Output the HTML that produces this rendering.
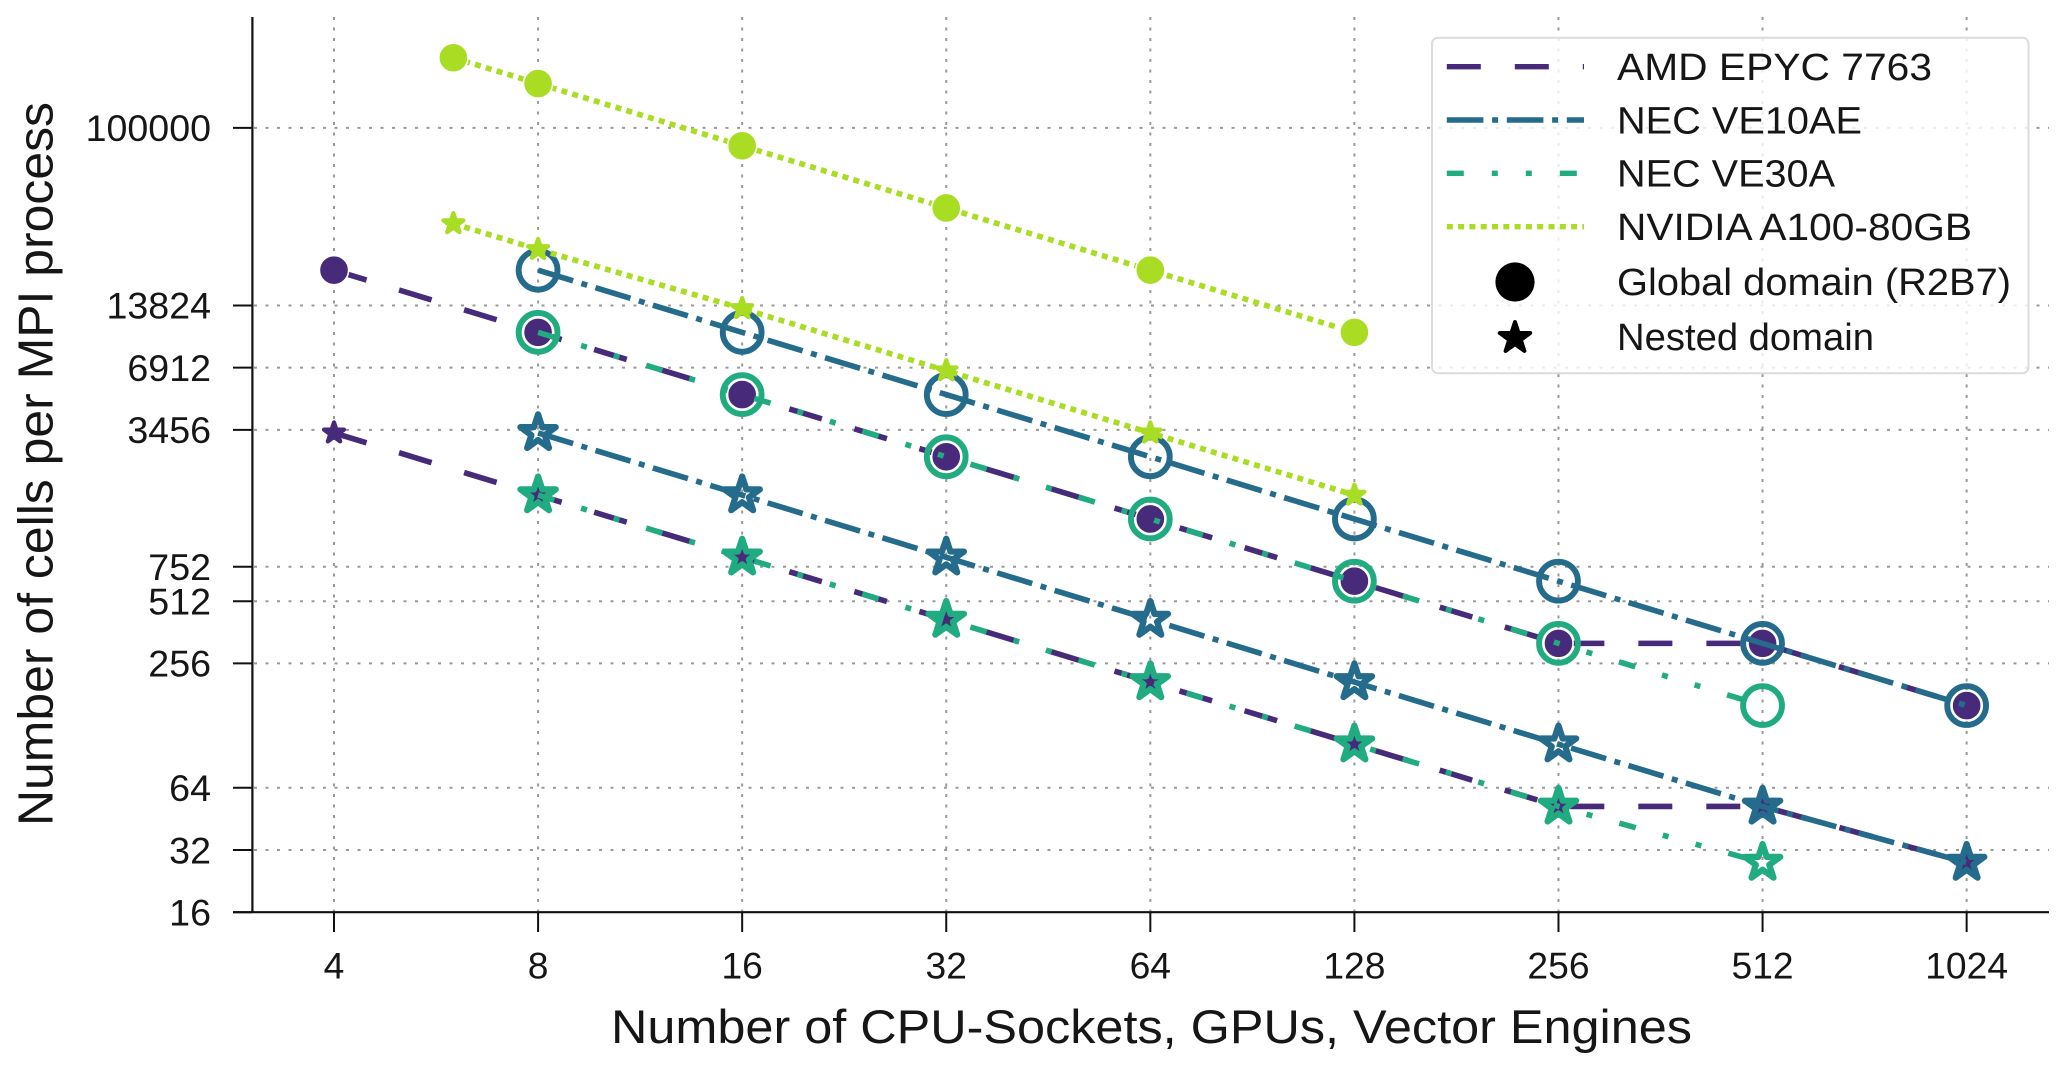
<!DOCTYPE html>
<html lang="en">
<head>
<meta charset="utf-8">
<title>Cells per MPI process vs number of devices</title>
<style>
html,body{margin:0;padding:0;background:#fff;}
svg{display:block;}
text{font-family:"Liberation Sans",sans-serif;fill:#161616;}
</style>
</head>
<body>
<svg id="chart" xmlns="http://www.w3.org/2000/svg" width="2067" height="1070" viewBox="0 0 2067 1070">
  <rect x="0" y="0" width="2067" height="1070" fill="#ffffff"/>
  <g id="grid"></g>
  <g id="marks"></g>
  <g id="axes">
    <line x1="252.4" y1="17" x2="252.4" y2="913" stroke="#111" stroke-width="2.2"/>
    <line x1="233" y1="912.2" x2="2049" y2="912.2" stroke="#111" stroke-width="2.2"/>
  </g>
  <text x="611" y="1043" font-size="47" textLength="1081" lengthAdjust="spacingAndGlyphs">Number of CPU-Sockets, GPUs, Vector Engines</text>
  <text transform="translate(52.7,826) rotate(-90)" font-size="49" textLength="724" lengthAdjust="spacingAndGlyphs">Number of cells per MPI process</text>
  <g>
    <rect x="1432" y="37.7" width="596.5" height="335.5" rx="6" ry="6" fill="#ffffff" fill-opacity="0.8" stroke="#dcdcdc" stroke-width="2"/>
    <g>
      <line x1="1446.8" y1="66.7" x2="1584" y2="66.7" stroke="#472a7a" stroke-width="5.4" stroke-dasharray="34 34"/>
      <text x="1617" y="80" font-size="38" textLength="315" lengthAdjust="spacingAndGlyphs">AMD EPYC 7763</text>
    </g>
    <g>
      <line x1="1446.8" y1="120" x2="1584" y2="120" stroke="#256b8c" stroke-width="5.4" stroke-dasharray="36.6 8.7 6 8.7"/>
      <text x="1617" y="133.3" font-size="38" textLength="245" lengthAdjust="spacingAndGlyphs">NEC VE10AE</text>
    </g>
    <g>
      <line x1="1446.8" y1="173.3" x2="1584" y2="173.3" stroke="#21ab81" stroke-width="5.4" stroke-dasharray="17 28 6 28 6 28"/>
      <text x="1617" y="186.7" font-size="38" textLength="218" lengthAdjust="spacingAndGlyphs">NEC VE30A</text>
    </g>
    <g>
      <line x1="1446.8" y1="226.7" x2="1584" y2="226.7" stroke="#a9dd24" stroke-width="5.4" stroke-dasharray="6 5.3"/>
      <text x="1617" y="240" font-size="38" textLength="355" lengthAdjust="spacingAndGlyphs">NVIDIA A100-80GB</text>
    </g>
    <g>
      <circle cx="1515" cy="282" r="19.6" fill="#000"/>
      <text x="1617" y="295" font-size="38" textLength="394" lengthAdjust="spacingAndGlyphs">Global domain (R2B7)</text>
    </g>
    <g>
      <path id="legend-star" fill="#000" stroke="#000" stroke-width="4" stroke-linejoin="round"/>
      <text x="1617" y="350" font-size="38" textLength="257" lengthAdjust="spacingAndGlyphs">Nested domain</text>
    </g>
  </g>
</svg>
<script>
// Axis ticks
const xTicks = [4, 8, 16, 32, 64, 128, 256, 512, 1024];
const yTicks = [16, 32, 64, 256, 512, 752, 3456, 6912, 13824, 100000];

// Global domain (R2B7): devices and cells per MPI process
const amdGlobalX = [4, 8, 16, 32, 64, 128, 256, 512, 1024];
const amdGlobalY = [20480, 10240, 5120, 2560, 1280, 640, 320, 320, 160];
const ve10GlobalX = [8, 16, 32, 64, 128, 256, 512, 1024];
const ve10GlobalY = [20480, 10240, 5120, 2560, 1280, 640, 320, 160];
const ve30GlobalX = [8, 16, 32, 64, 128, 256, 512];
const ve30GlobalY = [10240, 5120, 2560, 1280, 640, 320, 160];
const a100GlobalX = [6, 8, 16, 32, 64, 128];
const a100GlobalY = [218450, 163840, 81920, 40960, 20480, 10240];

// Nested domain: devices and cells per MPI process
const amdNestedX = [4, 8, 16, 32, 64, 128, 256, 512, 1024];
const amdNestedY = [3340, 1670, 835, 417, 208, 104, 52, 52, 27.8];
const ve10NestedX = [8, 16, 32, 64, 128, 256, 512, 1024];
const ve10NestedY = [3340, 1670, 835, 417, 208, 104, 52, 27.8];
const ve30NestedX = [8, 16, 32, 64, 128, 256, 512];
const ve30NestedY = [1670, 835, 417, 208, 104, 52, 27.8];
const a100NestedX = [6, 8, 16, 32, 64, 128];
const a100NestedY = [34400, 25800, 13360, 6680, 3340, 1670];

const NS = 'http://www.w3.org/2000/svg';
const gridGroup = document.getElementById('grid');
const marksGroup = document.getElementById('marks');
const axesGroup = document.getElementById('axes');

function xScale(v) { return 334 + 204.08 * Math.log2(v / 4); }
function yScale(v) { return 912.2 - 62.2 * Math.log2(v / 16); }

function make(tag, parent, attrs) {
  const node = document.createElementNS(NS, tag);
  Object.keys(attrs).forEach(function (k) { node.setAttribute(k, attrs[k]); });
  parent.appendChild(node);
  return node;
}

function starPath(cx, cy, R) {
  const r = R * 0.381966;
  let d = '';
  for (let i = 0; i < 10; i++) {
    const rad = i % 2 === 0 ? R : r;
    const a = -Math.PI / 2 + i * Math.PI / 5;
    d += (i === 0 ? 'M' : 'L') + (cx + rad * Math.cos(a)).toFixed(2) + ' ' + (cy + rad * Math.sin(a)).toFixed(2);
  }
  return d + 'Z';
}

// Grid and ticks
xTicks.forEach(function (t) {
  const px = xScale(t);
  const g = make('line', gridGroup, { x1: px, y1: 17, x2: px, y2: 912, stroke: '#999999', 'stroke-width': 2, 'stroke-dasharray': '3 7.5' });
  
  
  const tick = make('line', axesGroup, { x1: px, y1: 912, x2: px, y2: 932, stroke: '#111', 'stroke-width': 2 });
  
  
  const label = make('text', axesGroup, { x: px, y: 978.7, 'font-size': 37, 'text-anchor': 'middle', textLength: String(t).length * 20.7, lengthAdjust: 'spacingAndGlyphs' });
  
  
  label.textContent = String(t);
});
yTicks.forEach(function (t) {
  const py = yScale(t);
  if (t !== 16) {
    const g = make('line', gridGroup, { x1: 254, y1: py, x2: 2049, y2: py, stroke: '#999999', 'stroke-width': 2, 'stroke-dasharray': '3 8.5' });
    
    
  }
  const tick = make('line', axesGroup, { x1: 233, y1: py, x2: 252, y2: py, stroke: '#111', 'stroke-width': 2 });
  
  
  const label = make('text', axesGroup, { x: 211, y: py + 13.3, 'font-size': 37, 'text-anchor': 'end', textLength: String(t).length * 20.9, lengthAdjust: 'spacingAndGlyphs' });
  
  
  label.textContent = String(t);
});

function drawLine(xs, ys, color, dash, name) {
  const pts = xs.map(function (x, i) { return xScale(x).toFixed(2) + ',' + yScale(ys[i]).toFixed(2); }).join(' ');
  const line = make('polyline', marksGroup, { points: pts, fill: 'none', stroke: color, 'stroke-width': 5.6, 'stroke-dasharray': dash, 'stroke-linejoin': 'miter' });
  
  
}

function drawMarkers(xs, ys, color, kind, hollow, name) {
  xs.forEach(function (x, i) {
    const px = xScale(x);
    const py = yScale(ys[i]);
    let mark;
    if (kind === 'circle') {
      mark = hollow
        ? make('circle', marksGroup, { cx: px, cy: py, r: 19.4, fill: 'none', stroke: color, 'stroke-width': 5.9 })
        : make('circle', marksGroup, { cx: px, cy: py, r: 14.6, fill: color, stroke: '#ffffff', 'stroke-width': 1.6 });
    } else {
      mark = hollow
        ? make('path', marksGroup, { d: starPath(px, py, 18.6), fill: 'none', stroke: color, 'stroke-width': 6.2, 'stroke-linejoin': 'round' })
        : make('path', marksGroup, { d: starPath(px, py, 10.5), fill: color, stroke: color, 'stroke-width': 4.2, 'stroke-linejoin': 'round' });
    }
    
    
  });
}

const purple = '#472a7a';
const teal = '#256b8c';
const green = '#21ab81';
const lime = '#a9dd24';
const dashAmd = '34 34';
const dashVe10 = '36.6 8.7 6 8.7';
const dashVe30 = '17 28 6 28 6 28';
const dashA100 = '6 5.3';

drawLine(amdGlobalX, amdGlobalY, purple, dashAmd, 'amd-global');
drawMarkers(amdGlobalX, amdGlobalY, purple, 'circle', false, 'amd-global');
drawLine(amdNestedX, amdNestedY, purple, dashAmd, 'amd-nested');
drawMarkers(amdNestedX, amdNestedY, purple, 'star', false, 'amd-nested');

drawLine(ve10GlobalX, ve10GlobalY, teal, dashVe10, 've10ae-global');
drawMarkers(ve10GlobalX, ve10GlobalY, teal, 'circle', true, 've10ae-global');
drawLine(ve10NestedX, ve10NestedY, teal, dashVe10, 've10ae-nested');
drawMarkers(ve10NestedX, ve10NestedY, teal, 'star', true, 've10ae-nested');

drawLine(ve30GlobalX, ve30GlobalY, green, dashVe30, 've30a-global');
drawMarkers(ve30GlobalX, ve30GlobalY, green, 'circle', true, 've30a-global');
drawLine(ve30NestedX, ve30NestedY, green, dashVe30, 've30a-nested');
drawMarkers(ve30NestedX, ve30NestedY, green, 'star', true, 've30a-nested');

drawLine(a100GlobalX, a100GlobalY, lime, dashA100, 'a100-global');
drawMarkers(a100GlobalX, a100GlobalY, lime, 'circle', false, 'a100-global');
drawLine(a100NestedX, a100NestedY, lime, dashA100, 'a100-nested');
drawMarkers(a100NestedX, a100NestedY, lime, 'star', false, 'a100-nested');

document.getElementById('legend-star').setAttribute('d', starPath(1515, 338, 16));
</script>
</body>
</html>
